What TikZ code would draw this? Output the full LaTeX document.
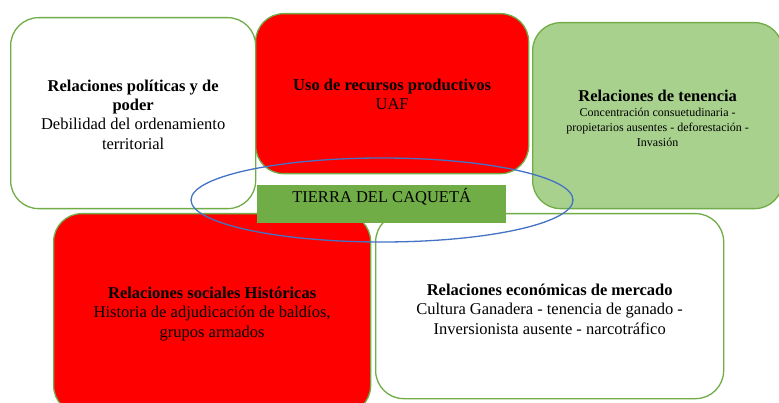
\documentclass[tikz,border=0pt]{standalone}
\usepackage{fontspec}
\setmainfont{Liberation Serif}
\usetikzlibrary{positioning}
\definecolor{bordergreen}{HTML}{70AD47}
\definecolor{lightgreen}{HTML}{A9D18E}
\definecolor{midgreen}{HTML}{70AD47}
\definecolor{ellblue}{HTML}{4472C4}
\definecolor{boxred}{HTML}{FF0000}
\begin{document}
\begin{tikzpicture}[x=1pt,y=-1pt,
  box/.style={draw=bordergreen, line width=1.3pt, rounded corners=28pt, anchor=north west, inner sep=0pt},
  txt/.style={align=center, inner sep=0pt},
  maintext/.style={font=\fontsize{16.5}{19.4}\selectfont},
  smalltext/.style={font=\fontsize{12}{15}\selectfont}]
\useasboundingbox (0,0) rectangle (779,403);
\clip (0,0) rectangle (779,403);
\fill[white] (0,0) rectangle (779,403);
% top left
\node[box, fill=white, minimum width=245pt, minimum height=191pt] (pol) at (10,17) {};
\node[txt, maintext, yshift=-1.5pt] (poltxt) at (pol.center)
  {\textbf{Relaciones políticas y de}\\\textbf{poder}\\Debilidad del ordenamiento\\territorial};
% top middle
\node[box, fill=boxred, minimum width=273pt, minimum height=160pt] (uso) at (255,13) {};
\node[txt, maintext, yshift=-1pt] (usotxt) at (uso.center)
  {\textbf{Uso de recursos productivos}\\UAF};
% top right
\node[box, fill=lightgreen, minimum width=250pt, minimum height=186pt] (ten) at (532,22) {};
\node[txt, smalltext, yshift=-2.5pt] (tentxt) at (ten.center)
  {{\fontsize{16.5}{19}\selectfont\textbf{Relaciones de tenencia}}\\Concentración consuetudinaria -\\propietarios ausentes - deforestación -\\Invasión};
% bottom left
\node[box, fill=boxred, minimum width=317pt, minimum height=200pt] (soc) at (53,213) {};
\node[txt, maintext] (soctxt) at (soc.center)
  {\textbf{Relaciones sociales Históricas}\\Historia de adjudicación de baldíos,\\grupos armados};
% bottom right
\node[box, fill=white, minimum width=348pt, minimum height=185pt] (eco) at (375,213) {};
\node[txt, maintext, yshift=-3pt] (ecotxt) at (eco.center)
  {\textbf{Relaciones económicas de mercado}\\Cultura Ganadera - tenencia de ganado -\\Inversionista ausente - narcotráfico};
% ellipse
\draw[ellblue, line width=1.3pt] (382,200) ellipse [x radius=191, y radius=42];
% central rectangle
\node[fill=midgreen, minimum width=249pt, minimum height=38pt, anchor=north west, inner sep=0pt] (tierra) at (257,185) {};
\node[maintext, anchor=north, inner sep=0pt, yshift=-3pt] (tierratxt) at (tierra.north) {TIERRA DEL CAQUETÁ};
\end{tikzpicture}
\end{document}
